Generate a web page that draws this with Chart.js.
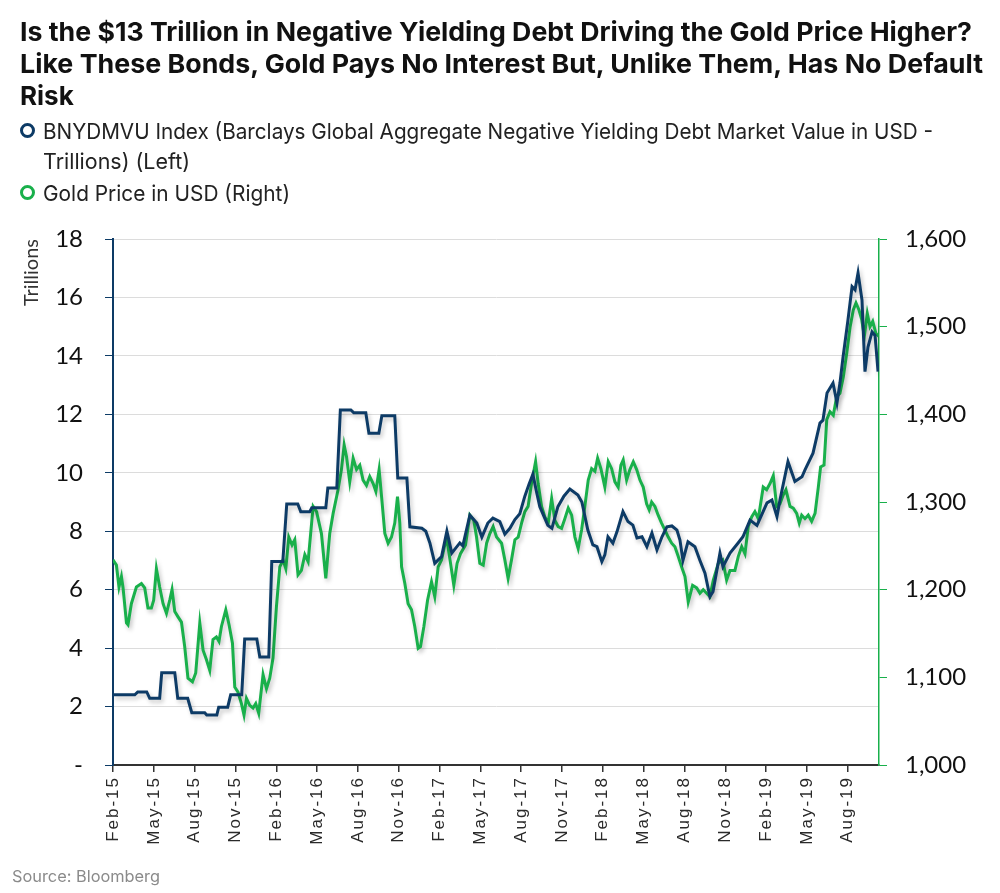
<!DOCTYPE html>
<html>
<head>
<meta charset="utf-8">
<script src="https://cdn.jsdelivr.net/npm/chart.js@4/dist/chart.umd.min.js"></script>
<style>
  body { margin: 0; background: #fff; }
  #wrap { position: relative; width: 1000px; height: 893px; overflow: hidden; }
  #chart { position: absolute; left: 0; top: 0; }
  .fit { display: inline-block; white-space: nowrap; transform-origin: 0 0; }
  .title { position: absolute; left: 20px; top: 16px; font: 700 26px Inter, 'Liberation Sans', sans-serif; line-height: 32px; color: #111; }
  .leg { position: absolute; left: 43px; font: 400 22px Inter, 'Liberation Sans', sans-serif; line-height: 30px; color: #222; }
  .ring { position: absolute; left: -23px; top: 7px; width: 9px; height: 9px; border-radius: 50%; border: 3px solid; }
  .src { position: absolute; left: 12px; top: 866px; font: 400 16px Inter, 'Liberation Sans', sans-serif; color: #8a8a8a; }
</style>
</head>
<body>
<div id="wrap">
  <canvas id="chart" width="1000" height="893"></canvas>
  <div class="title">
    <span class="fit" data-w="952">Is the $13 Trillion in Negative Yielding Debt Driving the Gold Price Higher?</span><br>
    <span class="fit" data-w="963">Like These Bonds, Gold Pays No Interest But, Unlike Them, Has No Default</span><br>
    <span class="fit">Risk</span>
  </div>
  <div class="leg" style="top:116px"><span class="ring" style="border-color:#0d3b66"></span><span class="fit" data-w="890">BNYDMVU Index (Barclays Global Aggregate Negative Yielding Debt Market Value in USD -</span><br><span class="fit" data-w="147">Trillions) (Left)</span></div>
  <div class="leg" style="top:178px"><span class="ring" style="border-color:#19b04b"></span><span class="fit" data-w="247">Gold Price in USD (Right)</span></div>
  <div class="src"><span class="fit" data-w="148">Source: Bloomberg</span></div>
</div>
<script>
// x positions are months counted from Feb-2015
const tickLabels = ['Feb-15','May-15','Aug-15','Nov-15','Feb-16','May-16','Aug-16','Nov-16','Feb-17','May-17','Aug-17','Nov-17','Feb-18','May-18','Aug-18','Nov-18','Feb-19','May-19','Aug-19'];

const debtMonths = [0,1.6,1.82,2.48,2.7,3.43,3.58,4.54,4.76,5.49,5.79,6.74,6.89,7.63,7.77,8.43,8.65,9.46,9.68,10.57,10.79,11.45,11.67,12.48,12.77,13.58,13.8,14.46,14.61,15.64,15.79,16.45,16.71,17.48,17.7,18.58,18.81,19.54,19.76,20.71,20.93,21.6,21.82,22.7,22.99,23.29,23.65,24.15,24.54,24.9,25.49,25.71,26.23,26.74,27.11,27.55,27.92,28.43,28.8,29.17,29.54,29.9,30.27,30.57,30.86,31.15,31.37,31.96,32.26,32.7,33.14,33.58,34.17,34.46,34.9,35.27,35.57,35.93,36.15,36.38,36.74,37.04,37.48,37.85,38.21,38.51,38.88,39.24,39.61,39.98,40.35,40.71,41.08,41.45,41.67,41.89,42.26,42.77,43.14,43.51,43.87,44.1,44.61,44.83,45.35,45.93,46.3,46.82,47.33,48.07,48.43,48.8,49.02,49.61,50.12,50.64,50.86,51.45,51.96,52.18,52.48,52.92,53.21,53.43,53.65,54.02,54.32,54.54,54.76,55.05,55.27,55.49,55.79,56.01,56.23];
const debtTrillions = [2.4,2.4,2.5,2.5,2.28,2.28,3.16,3.16,2.28,2.28,1.79,1.79,1.71,1.71,1.98,1.98,2.4,2.4,4.31,4.31,3.7,3.7,6.96,6.96,8.93,8.93,8.67,8.67,8.8,8.8,9.48,9.48,12.15,12.15,12.05,12.05,11.35,11.35,11.95,11.95,9.82,9.82,8.15,8.1,8.0,7.6,6.9,7.13,8.0,7.25,7.6,7.5,8.55,8.28,7.8,8.28,8.45,8.33,7.9,8.1,8.4,8.6,9.2,9.6,9.95,9.3,8.84,8.2,8.1,8.84,9.2,9.44,9.24,9.0,8.04,7.53,7.47,6.96,7.19,7.81,7.59,7.98,8.67,8.33,8.21,7.77,7.81,7.47,7.94,7.36,7.81,8.15,8.18,8.04,7.7,7.0,7.64,7.47,7.0,6.56,5.76,5.93,7.25,6.79,7.25,7.59,7.81,8.38,8.2,8.97,9.07,8.5,9.07,10.38,9.7,9.86,10.1,10.67,11.7,11.8,12.73,13.07,12.39,13.07,13.93,15.23,16.37,16.26,16.84,15.91,13.46,14.3,14.82,14.7,13.46];

const goldMonths = [0,0.25,0.44,0.62,0.74,0.99,1.1,1.35,1.72,2.09,2.33,2.57,2.82,2.99,3.19,3.43,3.68,3.93,4.17,4.34,4.54,4.78,5.03,5.27,5.51,5.84,6.08,6.38,6.62,6.87,7.11,7.35,7.6,7.79,7.97,8.29,8.53,8.78,8.95,9.19,9.44,9.63,9.81,10.05,10.29,10.49,10.71,11.03,11.28,11.52,11.76,12.01,12.26,12.5,12.7,12.92,13.16,13.36,13.6,13.85,14.1,14.34,14.71,14.96,15.32,15.64,15.93,16.18,16.54,16.79,16.99,17.16,17.4,17.65,17.9,18.14,18.38,18.63,18.87,19.12,19.32,19.56,19.74,19.98,20.22,20.47,20.71,20.91,21.08,21.21,21.45,21.69,21.94,22.18,22.43,22.6,22.85,23.12,23.41,23.65,23.9,24.15,24.51,24.81,25.05,25.29,25.54,25.91,26.23,26.52,26.72,26.96,27.21,27.46,27.7,27.94,28.19,28.56,28.8,29.04,29.29,29.54,29.78,30.03,30.27,30.51,30.76,31.06,31.25,31.5,31.74,31.99,32.24,32.48,32.72,32.97,33.21,33.46,33.71,33.95,34.19,34.44,34.68,34.93,35.18,35.42,35.62,35.86,36.15,36.4,36.65,36.89,37.13,37.33,37.5,37.75,37.99,38.24,38.49,38.73,38.97,39.22,39.41,39.59,39.83,40.07,40.32,40.57,40.81,41.06,41.3,41.54,41.79,42.04,42.28,42.6,42.9,43.14,43.38,43.63,43.87,44.12,44.49,44.81,45.1,45.35,45.71,45.96,46.21,46.45,46.69,46.94,47.18,47.43,47.79,48.04,48.29,48.53,48.78,49.02,49.26,49.46,49.76,50.0,50.25,50.44,50.62,50.86,51.1,51.35,51.6,51.84,52.01,52.26,52.46,52.7,52.94,53.19,53.43,53.68,53.93,54.18,54.41,54.61,54.83,55.03,55.22,55.44,55.64,55.84,56.08,56.3];
const goldPrice = [1234,1228,1203,1215,1202,1162,1160,1184,1203,1207,1202,1179,1179,1188,1224,1203,1184,1173,1188,1200,1175,1169,1163,1135,1099,1095,1105,1162,1131,1120,1108,1143,1146,1141,1158,1177,1160,1139,1089,1083,1070,1057,1076,1068,1065,1070,1059,1103,1087,1099,1122,1180,1226,1234,1224,1260,1251,1257,1217,1222,1240,1232,1295,1289,1264,1213,1264,1287,1314,1337,1365,1352,1323,1350,1337,1342,1325,1319,1329,1321,1312,1337,1306,1264,1253,1260,1276,1306,1276,1226,1207,1184,1177,1158,1133,1135,1158,1188,1209,1192,1226,1234,1260,1230,1205,1230,1241,1251,1285,1279,1260,1230,1228,1253,1264,1272,1260,1253,1234,1213,1234,1257,1260,1276,1289,1295,1321,1346,1321,1295,1283,1276,1304,1279,1272,1270,1281,1293,1285,1260,1247,1268,1295,1325,1338,1335,1350,1338,1317,1346,1338,1323,1317,1342,1348,1325,1337,1346,1337,1325,1317,1298,1291,1300,1295,1285,1276,1268,1260,1253,1249,1238,1226,1215,1186,1205,1202,1196,1200,1196,1192,1211,1230,1234,1211,1222,1222,1238,1249,1241,1272,1283,1289,1281,1317,1314,1321,1330,1295,1298,1308,1314,1295,1293,1287,1276,1285,1281,1285,1278,1287,1317,1340,1342,1394,1403,1399,1420,1424,1443,1470,1500,1519,1527,1519,1508,1489,1515,1500,1506,1492,1489];

const NAVY = '#0d3b66';
const GREEN = '#19b04b';

// squeeze / stretch each text line to the width it has in the original
document.querySelectorAll('.fit[data-w]').forEach(el => {
  const w = el.getBoundingClientRect().width;
  el.style.transform = 'scaleX(' + (el.dataset.w / w) + ')';
});

const lookPlugin = {
  id: 'look',
  // soft drop shadow under the lines
  beforeDatasetsDraw(chart) {
    const c = chart.ctx;
    c.save();
    c.shadowColor = 'rgba(0,0,0,0.22)';
    c.shadowBlur = 4;
    c.shadowOffsetX = 2;
    c.shadowOffsetY = 3;
  },
  afterDatasetsDraw(chart) {
    chart.ctx.restore();
  },
  // letter-spaced, vertical date labels under the x ticks
  afterDraw(chart) {
    const xs = chart.scales.x;
    const c = chart.ctx;
    const gap = 2;
    c.save();
    c.font = '17px "Liberation Sans", Arial, sans-serif';
    c.fillStyle = '#2a2a2a';
    c.textAlign = 'left';
    c.textBaseline = 'middle';
    tickLabels.forEach((l, i) => {
      const chars = [...l];
      const ws = chars.map(ch => c.measureText(ch).width);
      const total = ws.reduce((a, b) => a + b, 0) + gap * (chars.length - 1);
      c.save();
      c.translate(xs.getPixelForValue(i * 3), xs.top + 13);
      c.rotate(-Math.PI / 2);
      let x = -total;
      chars.forEach((ch, k) => { c.fillText(ch, x, 0); x += ws[k] + gap; });
      c.restore();
    });
    c.restore();
  }
};

new Chart(document.getElementById('chart'), {
  type: 'line',
  data: {
    datasets: [{
      label: 'BNYDMVU Index (Left)',
      data: debtMonths.map((m, i) => ({x: m, y: debtTrillions[i]})),
      borderColor: NAVY,
      borderWidth: 3,
      pointRadius: 0,
      yAxisID: 'y'
    }, {
      label: 'Gold Price in USD (Right)',
      data: goldMonths.map((m, i) => ({x: m, y: goldPrice[i]})),
      borderColor: GREEN,
      borderWidth: 3,
      pointRadius: 0,
      yAxisID: 'y1'
    }]
  },
  options: {
    responsive: false,
    animation: false,
    layout: { padding: { top: 239, left: 0, right: 0, bottom: 0 } },
    plugins: { legend: { display: false }, tooltip: { enabled: false } },
    scales: {
      x: {
        type: 'linear',
        min: 0,
        max: 56.3,
        afterBuildTicks: s => { s.ticks = tickLabels.map((l, i) => ({value: i * 3})); },
        afterFit: s => { s.height = 128; },
        ticks: { display: false, autoSkip: false },
        grid: { drawOnChartArea: false, drawTicks: true, tickLength: 7, tickColor: '#333', lineWidth: 1.5 },
        border: { color: '#333', width: 2 }
      },
      y: {
        position: 'left',
        min: 0,
        max: 18,
        afterFit: s => { s.width = 113; },
        ticks: {
          stepSize: 2,
          padding: 22,
          color: '#111',
          font: { family: 'Lato', size: 24 },
          callback: v => v === 0 ? '-' : v
        },
        grid: { color: '#dcdcdc', lineWidth: 1, tickColor: NAVY, tickLength: 8 },
        border: { color: NAVY, width: 2 },
        title: {
          display: true,
          text: 'Trillions',
          align: 'end',
          color: '#333',
          font: { family: 'Lato', size: 20 },
          padding: { top: 20, bottom: 0 }
        }
      },
      y1: {
        position: 'right',
        min: 1000,
        max: 1600,
        afterFit: s => { s.width = 121; },
        ticks: {
          stepSize: 100,
          padding: 18,
          color: '#111',
          font: { family: 'Lato', size: 24 },
          callback: v => v.toLocaleString('en-US')
        },
        grid: { drawOnChartArea: false, tickColor: GREEN, tickLength: 8 },
        border: { color: GREEN, width: 1.5 }
      }
    }
  },
  plugins: [lookPlugin]
});
</script>
</body>
</html>
